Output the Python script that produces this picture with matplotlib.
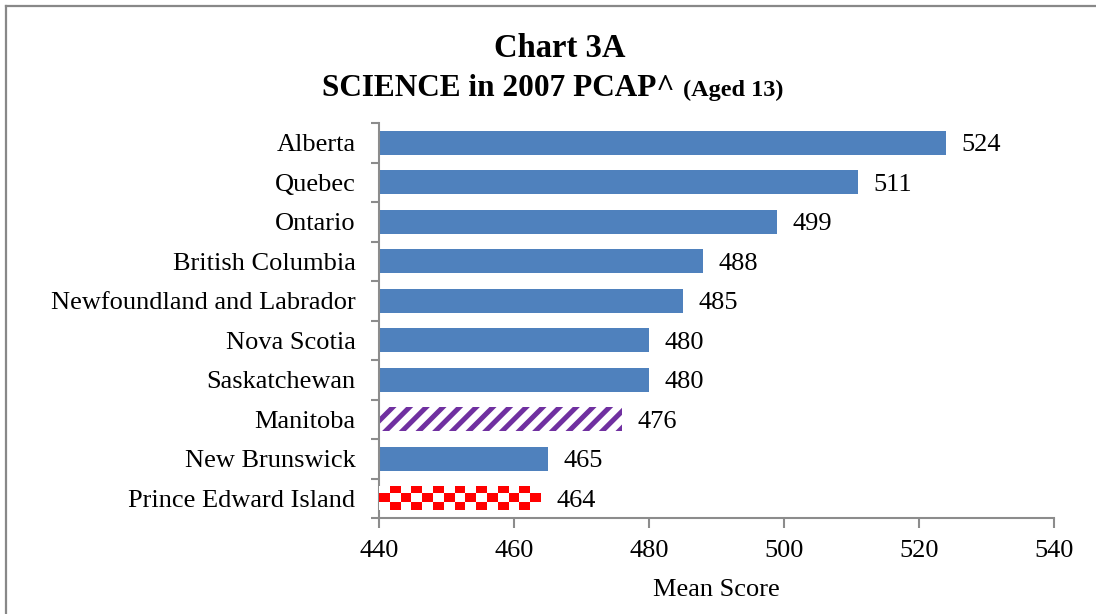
import matplotlib
matplotlib.use("Agg")
import matplotlib.pyplot as plt
import numpy as np
from matplotlib.colors import ListedColormap
from matplotlib.lines import Line2D

provinces = ["Alberta", "Quebec", "Ontario", "British Columbia",
             "Newfoundland and Labrador", "Nova Scotia", "Saskatchewan",
             "Manitoba", "New Brunswick", "Prince Edward Island"]
scores = [524, 511, 499, 488, 485, 480, 480, 476, 465, 464]
styles = ["solid"] * 7 + ["stripe", "solid", "checker"]
x_ticks = [440, 460, 480, 500, 520, 540]

BLUE = "#4F81BD"
PURPLE = "#7030A0"
RED = "#FF0000"
GRAY = "#8C8C8C"

plt.rcParams['font.family'] = ['Liberation Serif', 'DejaVu Serif']
plt.rcParams['hatch.linewidth'] = 3.6

fig = plt.figure(figsize=(10.96, 6.14), dpi=100)
ax = fig.add_axes([379/1096, 1-518/614, (1054-379)/1096, (518-123)/614])

FS = 19
n = len(provinces)
ypos = np.arange(n)
h = 0.62
xmin = x_ticks[0]
for y, v, s in zip(ypos, scores, styles):
    if s == "solid":
        ax.barh(y, v - xmin, left=xmin, height=h, color=BLUE, zorder=2)
    elif s == "stripe":
        ax.barh(y, v - xmin, left=xmin, height=h, facecolor="white",
                edgecolor=PURPLE, linewidth=0, hatch="//", zorder=2)
    else:
        bars = ax.barh(y, v - xmin, left=xmin, height=h, facecolor="white",
                       linewidth=0, zorder=2)
        ncols = int(round((v - xmin) * 6.75 / 10.8))
        nrows = 3
        pat = (np.add.outer(np.arange(nrows), np.arange(ncols)) % 2)
        im = ax.imshow(pat, cmap=ListedColormap(["white", RED]),
                       extent=(xmin, v, y + h/2, y - h/2),
                       interpolation="nearest", aspect="auto", zorder=3)
        im.set_clip_path(bars[0])
    ax.text(v + 2.3, y, str(v), va="center_baseline", ha="left", fontsize=FS,
            color="black")

ax.set_xlim(x_ticks[0], x_ticks[-1])
ax.set_ylim(n - 0.5, -0.5)
ax.set_xticks(x_ticks)
ax.set_xticklabels([str(t) for t in x_ticks], fontsize=FS)
ax.set_yticks(ypos)
ax.set_yticklabels(provinces, fontsize=FS)
ax.tick_params(axis="y", length=0, pad=17)
ax.set_yticks(np.arange(-0.5, n, 1.0), minor=True)
ax.tick_params(axis="y", which="minor", length=6, width=1.5, color=GRAY, direction="out")
ax.tick_params(axis="x", length=7, width=1.5, color=GRAY, pad=9)
for sp in ["top", "right"]:
    ax.spines[sp].set_visible(False)
for sp in ["left", "bottom"]:
    ax.spines[sp].set_color(GRAY)
    ax.spines[sp].set_linewidth(1.5)
ax.set_xlabel("Mean Score", fontsize=FS, labelpad=12)

fig.text(560/1096, 1-57/614, "Chart 3A", ha="center", va="baseline",
         fontsize=23.5, fontweight="bold")
fig.text(675/1096, 1-96/614, "SCIENCE in 2007 PCAP^", ha="right", va="baseline",
         fontsize=22.5, fontweight="bold")
fig.text(683/1096, 1-96/614, "(Aged 13)", ha="left", va="baseline",
         fontsize=17.5, fontweight="bold")

# outer border
fig.add_artist(Line2D([6/1096, 1.0], [1-6/614, 1-6/614], color="#888888", lw=1.6,
                      transform=fig.transFigure))
fig.add_artist(Line2D([6/1096, 6/1096], [0.0, 1-6/614], color="#888888", lw=1.6,
                      transform=fig.transFigure))

fig.savefig("out.png", dpi=100)
